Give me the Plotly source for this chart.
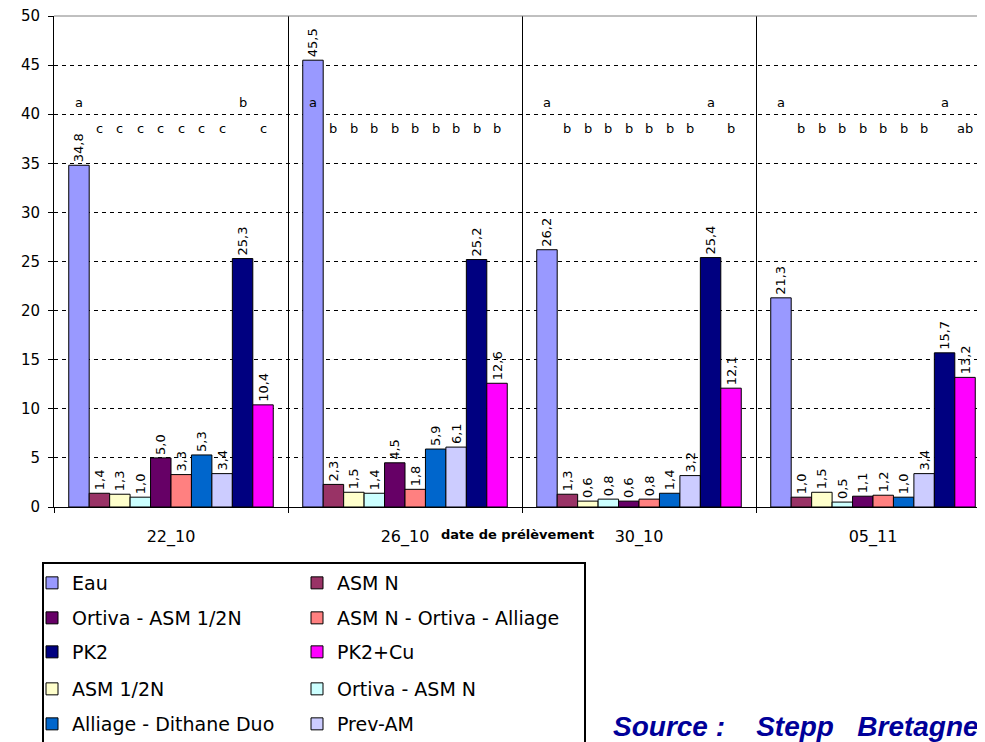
import plotly.graph_objects as go

dates = ["22_10", "26_10", "30_10", "05_11"]
series_names = ["Eau", "ASM N", "ASM 1/2N", "Ortiva - ASM N", "Ortiva - ASM 1/2N",
                "ASM N - Ortiva - Alliage", "Alliage - Dithane Duo", "Prev-AM", "PK2", "PK2+Cu"]
eau = [34.8, 45.5, 26.2, 21.3]
asm_n = [1.4, 2.3, 1.3, 1.0]
asm_half = [1.3, 1.5, 0.6, 1.5]
ortiva_asm_n = [1.0, 1.4, 0.8, 0.5]
ortiva_asm_half = [5.0, 4.5, 0.6, 1.1]
asm_ortiva_alliage = [3.3, 1.8, 0.8, 1.2]
alliage_dithane = [5.3, 5.9, 1.4, 1.0]
prev_am = [3.4, 6.1, 3.2, 3.4]
pk2 = [25.3, 25.2, 25.4, 15.7]
pk2_cu = [10.4, 12.6, 12.1, 13.2]
series_values = [eau, asm_n, asm_half, ortiva_asm_n, ortiva_asm_half,
                 asm_ortiva_alliage, alliage_dithane, prev_am, pk2, pk2_cu]
colors = ["#9999FF", "#993366", "#FFFFCC", "#CCFFFF", "#660066",
          "#FF8080", "#0066CC", "#CCCCFF", "#000080", "#FF00FF"]
# statistical groups (one list per date, in bar order)
letters_2210 = ["a", "c", "c", "c", "c", "c", "c", "c", "b", "c"]
letters_2610 = ["a", "b", "b", "b", "b", "b", "b", "b", "b", "b"]
letters_3010 = ["a", "b", "b", "b", "b", "b", "b", "b", "a", "b"]
letters_0511 = ["a", "b", "b", "b", "b", "b", "b", "b", "a", "ab"]
letters = [letters_2210, letters_2610, letters_3010, letters_0511]
# legend rows (2 columns)
legend_rows = [["Eau", "ASM N"],
               ["Ortiva - ASM 1/2N", "ASM N - Ortiva - Alliage"],
               ["PK2", "PK2+Cu"],
               ["ASM 1/2N", "Ortiva - ASM N"],
               ["Alliage - Dithane Duo", "Prev-AM"]]

FONT = "Arial, Liberation Sans, sans-serif"
WIDE = "DejaVu Sans, Verdana, sans-serif"
OFF = 8  # page body margin
W_FIG, H_FIG = 985 - OFF, 742 - OFF
L, R, T, B = 54, 985, 16, 507  # plot area, screen pixels
PW, PH = R - L, B - T
GROUP_PX = 234
BARGAP = 0.126

def pxx(px):
    return (px - L) / PW

def pxy(py):
    return (B - py) / PH

def fmt(v):
    return f"{v:.1f}".replace(".", ",")

row_of = {}
for r, row in enumerate(legend_rows):
    for n in row:
        row_of[n] = r

fig = go.Figure()
for name, vals, col in zip(series_names, series_values, colors):
    r = row_of[name]
    fig.add_trace(go.Bar(
        name=name, x=dates, y=vals,
        marker=dict(color=col, line=dict(color="black", width=1)),
        text=[fmt(v) for v in vals], textposition="outside", textangle=-90,
        textfont=dict(family=WIDE, size=13, color="black"),
        cliponaxis=False, constraintext="none",
        legend="legend" if r == 0 else f"legend{r + 1}",
    ))

# letters above bars
nser = len(series_names)
bw = (1 - BARGAP) / nser
annotations = []
for g, lets in enumerate(letters):
    last = max("".join(lets))
    for i, lt in enumerate(lets):
        if not lt:
            continue
        upper = last not in lt
        annotations.append(dict(
            x=g + (i - (nser - 1) / 2) * bw, y=41.2 if upper else 38.5,
            xref="x", yref="y", text=lt, showarrow=False,
            font=dict(family=WIDE, size=13, color="black")))

annotations.append(dict(x=pxx(517), y=pxy(544), xref="paper", yref="paper",
                        text="<b>date de prélèvement</b>", showarrow=False,
                        font=dict(family=WIDE, size=13, color="black")))
annotations.append(dict(x=pxx(611), y=pxy(726), xref="paper", yref="paper",
                        xanchor="left", yanchor="middle",
                        text="<b><i>Source :&nbsp;&nbsp;&nbsp;&nbsp;Stepp&nbsp;&nbsp;&nbsp;Bretagne</i></b>",
                        showarrow=False,
                        font=dict(family=FONT, size=28, color="#000099")))

row_y = [583, 618, 652, 689, 724]
legends = {}
for r, y in enumerate(row_y):
    key = "legend" if r == 0 else f"legend{r + 1}"
    legends[key] = dict(
        orientation="h", x=pxx(32), xanchor="left", y=pxy(y), yanchor="middle",
        entrywidth=220, entrywidthmode="pixels", bgcolor="rgba(0,0,0,0)",
        borderwidth=0, font=dict(family=WIDE, size=19, color="black"),
        traceorder="normal")

fig.update_layout(
    width=W_FIG, height=H_FIG,
    margin=dict(l=L - OFF, r=W_FIG - (R - OFF), t=T - OFF, b=H_FIG - (B - OFF),
                autoexpand=False),
    paper_bgcolor="white", plot_bgcolor="white",
    barmode="group", bargap=BARGAP, bargroupgap=0,
    showlegend=True,
    annotations=annotations,
    font=dict(family=FONT, color="black"),
    xaxis=dict(type="category", range=[-0.5, -0.5 + PW / GROUP_PX],
               tickson="boundaries", showgrid=True, gridcolor="black", gridwidth=1,
               ticks="outside", ticklen=5, tickcolor="black",
               showline=True, linecolor="black", linewidth=1,
               tickfont=dict(family=WIDE, size=16, color="black"),
               ticklabelstandoff=15),
    yaxis=dict(range=[0, 50], dtick=5, tick0=0,
               showgrid=True, gridcolor="black", gridwidth=1, griddash="4px,4px",
               zeroline=False, ticks="outside", ticklen=5, tickcolor="black",
               showline=True, linecolor="black", linewidth=1,
               tickfont=dict(family=WIDE, size=15, color="black"),
               ticklabelstandoff=5, ticklabeloverflow="allow"),
    shapes=[
        dict(type="line", xref="paper", yref="paper", x0=0, x1=1, y0=1, y1=1,
             line=dict(color="#808080", width=1), layer="above"),
        dict(type="rect", xref="paper", yref="paper",
             x0=pxx(43), x1=pxx(585), y0=pxy(563), y1=pxy(770),
             line=dict(color="black", width=2), fillcolor="rgba(0,0,0,0)"),
    ],
    **legends,
)

fig.write_html("out.html")
